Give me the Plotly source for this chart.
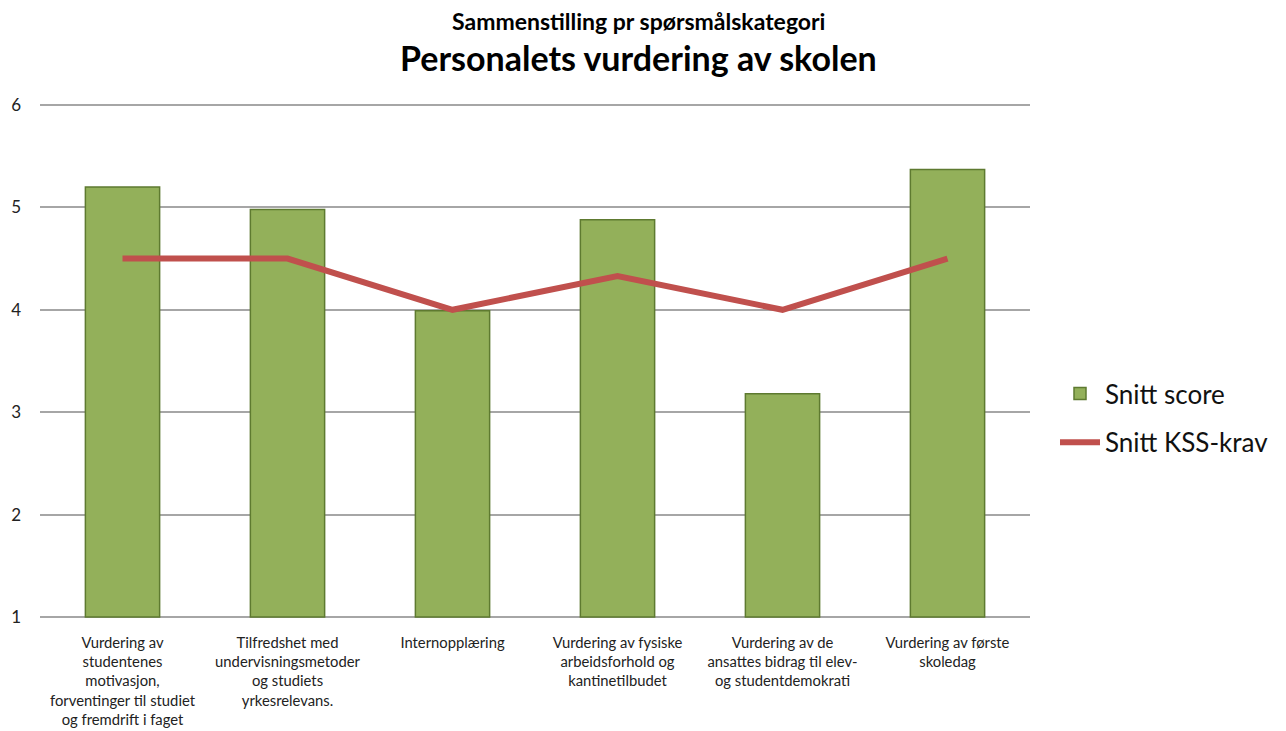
import plotly.graph_objects as go

categories = [
    "Vurdering av<br>studentenes<br>motivasjon,<br>forventinger til studiet<br>og fremdrift i faget",
    "Tilfredshet med<br>undervisningsmetoder<br>og studiets<br>yrkesrelevans.",
    "Internopplæring",
    "Vurdering av fysiske<br>arbeidsforhold og<br>kantinetilbudet",
    "Vurdering av de<br>ansattes bidrag til elev-<br>og studentdemokrati",
    "Vurdering av første<br>skoledag",
]
snitt_score = [5.2, 4.98, 3.99, 4.88, 3.18, 5.37]
snitt_kss = [4.5, 4.5, 4.0, 4.33, 4.0, 4.5]
y_ticks = [1, 2, 3, 4, 5, 6]

FONT = "Lato, Open Sans, sans-serif"
OFF = 8  # default page body margin
W, H = 1286 - OFF, 731 - OFF
PAD = 3  # px of padding beyond 1 and 6 so the edge gridlines draw
PLOT_TOP, PLOT_BOTTOM = 105 - OFF - PAD, 617 - OFF + PAD
PLOT_LEFT, PLOT_RIGHT = 40 - OFF, 1030 - OFF
UNIT = (617 - 105) / 5.0
YPAD = PAD / UNIT


def py(page_y):
    return (PLOT_BOTTOM - (page_y - OFF)) / (PLOT_BOTTOM - PLOT_TOP)


def pxx(page_x):
    return ((page_x - OFF) - PLOT_LEFT) / (PLOT_RIGHT - PLOT_LEFT)


fig = go.Figure()
fig.add_trace(go.Bar(
    x=categories, y=[v - 1 for v in snitt_score], base=1,
    name="Snitt score", legendgroup="a",
    marker=dict(color="#93B05A", line=dict(color="#5E7A30", width=1.5)),
    width=0.45,
    hoverinfo="skip",
))
fig.add_trace(go.Scatter(
    x=categories, y=snitt_kss, name="Snitt KSS-krav", legendgroup="b",
    mode="lines", line=dict(color="#C0504D", width=6),
))

fig.update_layout(
    width=W, height=H,
    paper_bgcolor="white", plot_bgcolor="white",
    margin=dict(l=PLOT_LEFT, r=W - PLOT_RIGHT, t=PLOT_TOP, b=H - PLOT_BOTTOM, autoexpand=False),
    font=dict(family=FONT, color="#222222"),
    showlegend=True,
    legend=dict(x=pxx(1055), y=py(418), xanchor="left", yanchor="middle",
                font=dict(size=26, color="#111111"), bgcolor="rgba(0,0,0,0)",
                traceorder="grouped", tracegroupgap=12, itemwidth=40),
    xaxis=dict(showgrid=False, showline=False, ticks="", ticklabelstandoff=12,
               tickfont=dict(size=14.8, color="#222222"), tickangle=0, automargin=False),
    yaxis=dict(range=[1 - YPAD, 6 + YPAD], tickvals=y_ticks, showgrid=True,
               gridcolor="#A6A6A6", gridwidth=1.5, zeroline=False,
               showline=False, ticks="", ticklabelstandoff=18, automargin=False,
               tickfont=dict(size=17, color="#222222")),
    annotations=[
        dict(text="<b>Sammenstilling pr spørsmålskategori</b>", x=pxx(638), y=py(21),
             xref="paper", yref="paper", xanchor="center", yanchor="middle",
             showarrow=False, font=dict(size=23, color="#000000")),
        dict(text="<b>Personalets vurdering av skolen</b>", x=pxx(638), y=py(57),
             xref="paper", yref="paper", xanchor="center", yanchor="middle",
             showarrow=False, font=dict(size=34, color="#000000")),
    ],
)

fig.write_html("out.html")
